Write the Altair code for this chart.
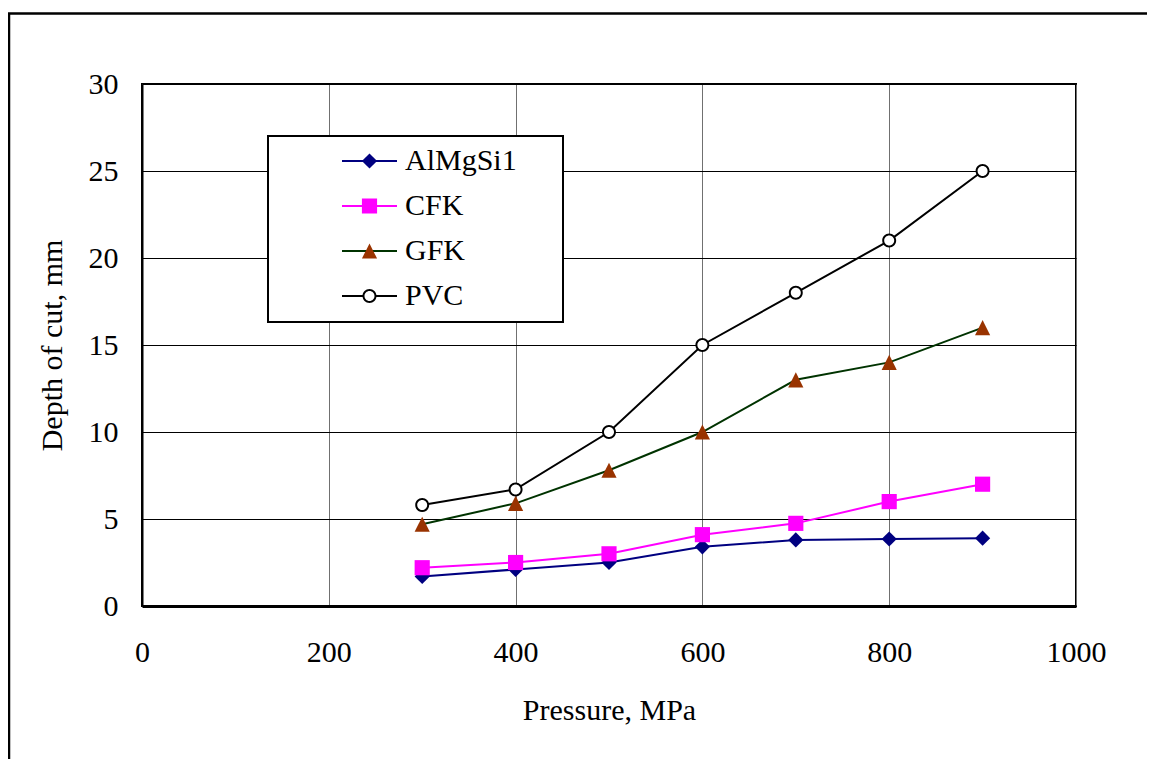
import altair as alt
import pandas as pd

# ---- data ----
pressure = [300, 400, 500, 600, 700, 800, 900]
series_names = ["AlMgSi1", "CFK", "GFK", "PVC"]
almgsi1 = [1.7, 2.1, 2.5, 3.4, 3.8, 3.85, 3.9]
cfk = [2.2, 2.5, 3.0, 4.1, 4.75, 6.0, 7.0]
gfk = [4.7, 5.9, 7.8, 10.0, 13.0, 14.0, 16.0]
pvc = [5.8, 6.7, 10.0, 15.0, 18.0, 21.0, 25.0]

x_ticks = [0, 200, 400, 600, 800, 1000]
y_ticks = [0, 5, 10, 15, 20, 25, 30]

# ---- styles ----
line_colors = ["#000080", "#FF00FF", "#003300", "#000000"]
fill_colors = ["#000080", "#FF00FF", "#993300", "#000000"]
EMPTY = "M0,0"
TRIANGLE = "M0,-1L1,1L-1,1Z"
RING = ("M0.92,0A0.92,0.92,0,1,1,-0.92,0A0.92,0.92,0,1,1,0.92,0Z"
        "M0.66,0A0.66,0.66,0,1,0,-0.66,0A0.66,0.66,0,1,0,0.66,0Z")
marker_shapes = ["diamond", "square", TRIANGLE, RING]
disk_shapes = [EMPTY, EMPTY, EMPTY, "circle"]
FONT = "Liberation Serif"
MARKER_SIZE = 230
DISK_SIZE = 150

rows = []
for name, vals in zip(series_names, [almgsi1, cfk, gfk, pvc]):
    for p, v in zip(pressure, vals):
        rows.append({"pressure": p, "depth": v, "series": name,
                     "series_pt": name, "series_pc": name})
df = pd.DataFrame(rows)

x_enc = alt.X(
    "pressure:Q",
    scale=alt.Scale(domain=[0, 1000], nice=False),
    axis=alt.Axis(
        values=x_ticks, format="d", title="Pressure, MPa", grid=True,
        gridColor="#707070", gridWidth=1, ticks=False, domainColor="black",
        domainWidth=3, labelPadding=31, labelFlush=False, titleY=104,
        titleBaseline="middle",
    ),
)
y_enc = alt.Y(
    "depth:Q",
    scale=alt.Scale(domain=[0, 30], nice=False),
    axis=alt.Axis(
        values=y_ticks, format="d", title="Depth of cut, mm", grid=True,
        gridColor="black", gridWidth=1, ticks=False, domainColor="black",
        domainWidth=2, labelPadding=24, labelFlush=False, titleX=-90,
        titleY=261, titleBaseline="middle", titleAlign="center",
    ),
)

common = dict(orient="none", legendX=126, legendY=52, padding=11,
              clipHeight=28, rowPadding=15, labelFont=FONT, labelFontSize=30)

leg_line = alt.Legend(
    **common,
    title=".", titleOrient="right", titleFontSize=8, titleColor="white",
    titlePadding=32,
    strokeColor="black", fillColor="white",
    symbolType="stroke", symbolSize=3025, symbolStrokeWidth=2,
    symbolOffset=62, labelOffset=7, labelColor="black", zindex=1,
)
leg_disk = alt.Legend(
    **common, title=None, symbolOffset=75.5, labelOffset=20.5, labelOpacity=0,
    symbolSize=DISK_SIZE, symbolStrokeWidth=0, symbolOpacity=1, zindex=2,
)
leg_pt = alt.Legend(
    **common, title=None, symbolOffset=75.5, labelOffset=20.5, labelOpacity=0,
    symbolSize=MARKER_SIZE, symbolStrokeWidth=0, symbolOpacity=1, zindex=3,
)

lines = alt.Chart(df).mark_line(strokeWidth=2).encode(
    x=x_enc, y=y_enc,
    stroke=alt.Stroke("series:N", scale=alt.Scale(range=line_colors), legend=leg_line),
)

disks = alt.Chart(df).mark_point(
    filled=True, fill="white", strokeWidth=0, opacity=1, size=DISK_SIZE
).encode(
    x=x_enc, y=y_enc,
    shape=alt.Shape("series_pc:N", scale=alt.Scale(range=disk_shapes), legend=leg_disk),
)

points = alt.Chart(df).mark_point(
    filled=True, opacity=1, size=MARKER_SIZE, strokeWidth=0
).encode(
    x=x_enc, y=y_enc,
    fill=alt.Fill("series_pt:N", scale=alt.Scale(range=fill_colors), legend=leg_pt),
    shape=alt.Shape("series_pt:N", scale=alt.Scale(range=marker_shapes), legend=leg_pt),
)

frame = alt.Chart(pd.DataFrame({"a": [0]})).mark_rect(
    fill="transparent", stroke="black", strokeWidth=2.5
).encode(
    x=alt.value(-133), x2=alt.value(1060), y=alt.value(-70.5), y2=alt.value(740)
)

chart = (
    alt.layer(frame, lines, disks, points)
    .resolve_scale(shape="independent", fill="independent")
    .properties(
        width=934, height=522,
        autosize=alt.AutoSizeParams(type="none"),
        padding={"left": 134, "top": 76, "right": 71, "bottom": 153},
        background="white",
    )
    .configure_view(stroke="black", strokeWidth=2)
    .configure_axis(
        labelFont=FONT, labelFontSize=30, labelColor="black",
        titleFont=FONT, titleFontSize=30, titleFontWeight="normal", titleColor="black",
    )
    .configure_legend(strokeWidth=2)
)

chart.save("out.html", embed_options={"renderer": "svg", "actions": False})
